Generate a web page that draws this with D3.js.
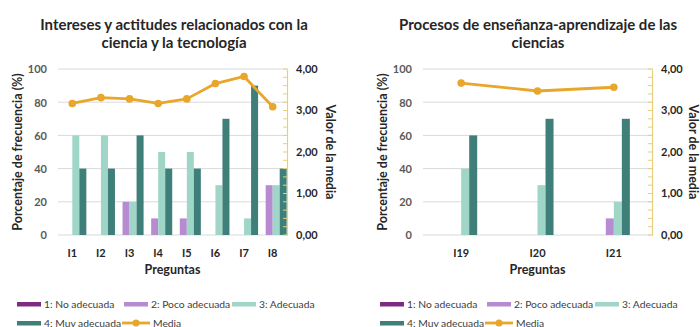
<!DOCTYPE html>
<html><head><meta charset="utf-8">
<script src="https://cdn.jsdelivr.net/npm/d3@7"></script>
<style>
body{margin:0;background:#fff;}
svg{display:block;font-family:"Lato","Open Sans",sans-serif;}
</style></head>
<body><svg id="c" width="700" height="327"></svg>
<script>
// ---- data ----
const seriesNames = ["1: No adecuada","2: Poco adecuada","3: Adecuada","4: Muy adecuada"];
const mediaName = "Media";
const catsA = ["I1","I2","I3","I4","I5","I6","I7","I8"];
const noAdecuadaA = [0,0,0,0,0,0,0,0];
const pocoAdecuadaA = [0,0,20,10,10,0,0,30];
const adecuadaA = [60,60,20,50,50,30,10,30];
const muyAdecuadaA = [40,40,60,40,40,70,90,40];
const mediaA = [3.17,3.31,3.28,3.17,3.28,3.65,3.82,3.09];

const catsB = ["I19","I20","I21"];
const noAdecuadaB = [0,0,0];
const pocoAdecuadaB = [0,0,10];
const adecuadaB = [40,30,20];
const muyAdecuadaB = [60,70,70];
const mediaB = [3.66,3.47,3.56];

const leftTicks = [0,20,40,60,80,100];
const rightTicks = [0,1,2,3,4];
const titleA = ["Intereses y actitudes relacionados con la","ciencia y la tecnología"];
const titleB = ["Procesos de enseñanza-aprendizaje de las","ciencias"];
const yTitleL = "Porcentaje de frecuencia (%)";
const yTitleR = "Valor de la media";
const xTitle = "Preguntas";

const colors = ["#7b2c82","#b68bd2","#9fd6c8","#3f7f79"];
const mediaColor = "#e8a62b";

const svg = d3.select("#c");

function drawChart(cfg){
  const g = svg.append("g");
  const x0 = d3.scaleBand().domain(cfg.cats).range([cfg.x0, cfg.x1]).paddingInner(0).paddingOuter(0);
  const yL = d3.scaleLinear().domain([0,100]).range([235,69]);
  const yR = d3.scaleLinear().domain([0,4]).range([235,69]);
  const gw = x0.bandwidth()*cfg.groupFrac;
  const x1 = d3.scaleBand().domain(d3.range(4)).range([0,gw]).padding(0);

  // gridlines
  g.selectAll("line.grid").data(leftTicks).join("line")
    .attr("x1",cfg.x0).attr("x2",cfg.x1)
    .attr("y1",d=>yL(d)).attr("y2",d=>yL(d))
    .attr("stroke","#dadada").attr("stroke-width",1);

  // left axis labels
  const la = g.append("g").attr("transform",`translate(${cfg.x0-11},0)`)
    .call(d3.axisLeft(yL).tickValues(leftTicks).tickSize(0).tickPadding(0));
  la.select(".domain").remove();
  la.selectAll("text").attr("font-size",11).attr("fill","#595959").attr("font-family","Lato, sans-serif").attr("font-weight","bold").attr("dy","0.35em");

  // bars
  const data = cfg.cats.map((c,i)=>({c, v: cfg.series.map(s=>s[i])}));
  const grp = g.selectAll("g.grp").data(data).join("g")
    .attr("transform",d=>`translate(${x0(d.c)+(x0.bandwidth()-gw)/2},0)`);
  grp.selectAll("rect").data(d=>d.v.map((v,k)=>({v,k}))).join("rect")
    .attr("x",d=>x1(d.k)).attr("width",x1.bandwidth())
    .attr("y",d=>yL(d.v)).attr("height",d=>yL(0)-yL(d.v))
    .attr("fill",d=>colors[d.k]);

  // right axis
  const ra = g.append("g").attr("transform",`translate(${cfg.x1},0)`)
    .call(d3.axisRight(yR).tickValues(d3.range(0,4.01,0.2)).tickSize(0).tickFormat(""));
  ra.select(".domain").attr("stroke","#e9cf7a").attr("stroke-width",1.2);
  g.selectAll("line.minor").data(d3.range(0,4.01,0.2)).join("line")
    .attr("x1",cfg.x1-4).attr("x2",cfg.x1+1)
    .attr("y1",d=>yR(d)).attr("y2",d=>yR(d))
    .attr("stroke","#e9cf7a").attr("stroke-width",1);
  g.selectAll("text.rt").data(rightTicks).join("text")
    .attr("x",cfg.x1+9).attr("y",d=>yR(d)).attr("dy","0.35em")
    .attr("font-size",11).attr("font-weight","bold").attr("fill","#262626")
    .text(d=>d3.format(".2f")(d).replace(".",","));

  // media line
  const lineGen = d3.line().x((d,i)=>x0(cfg.cats[i])+x0.bandwidth()/2).y(d=>yR(d));
  g.append("path").datum(cfg.media).attr("d",lineGen)
    .attr("fill","none").attr("stroke",mediaColor).attr("stroke-width",2.8).attr("stroke-linejoin","round");
  g.selectAll("circle.m").data(cfg.media).join("circle")
    .attr("cx",(d,i)=>x0(cfg.cats[i])+x0.bandwidth()/2).attr("cy",d=>yR(d)).attr("r",3.8)
    .attr("fill",mediaColor);

  // category labels
  g.selectAll("text.cat").data(cfg.cats).join("text")
    .attr("x",d=>x0(d)+x0.bandwidth()/2).attr("y",253).attr("dy","0.35em")
    .attr("text-anchor","middle").attr("font-size",11).attr("font-weight","bold").attr("fill","#262626")
    .text(d=>d);

  // titles
  cfg.title.forEach((t,i)=>{
    g.append("text").attr("x",cfg.titleX).attr("y",25+i*18).attr("dy","0.35em")
      .attr("text-anchor","middle").attr("font-size",15).attr("font-weight","bold").attr("fill","#262626").text(t);
  });
  g.append("text").attr("x",(cfg.x0+cfg.x1)/2).attr("y",270).attr("dy","0.35em")
    .attr("text-anchor","middle").attr("font-size",12.5).attr("font-weight","bold").attr("fill","#262626").text(xTitle);
  g.append("text").attr("transform",`translate(${cfg.yLx},152) rotate(-90)`).attr("dy","0.35em")
    .attr("text-anchor","middle").attr("font-size",12.5).attr("font-weight","bold").attr("fill","#262626").text(yTitleL);
  g.append("text").attr("transform",`translate(${cfg.yRx},152) rotate(90)`).attr("dy","0.35em")
    .attr("text-anchor","middle").attr("font-size",12.5).attr("font-weight","bold").attr("fill","#262626").text(yTitleR);

  // legend
  const items = seriesNames.map((n,k)=>({n,k}));
  const pos = [[0,0],[cfg.leg2,0],[cfg.leg3,0],[0,1]];
  items.forEach((it,k)=>{
    const lx = cfg.legX + pos[k][0], ly = 304 + pos[k][1]*19;
    g.append("rect").attr("x",lx).attr("y",ly-2).attr("width",24).attr("height",4.5).attr("fill",colors[k]);
    g.append("text").attr("x",lx+27).attr("y",ly).attr("dy","0.35em").attr("font-size",10.3).attr("fill","#404040").text(it.n);
  });
  const mx = cfg.legX + cfg.legM, my = 323;
  g.append("line").attr("x1",mx).attr("x2",mx+28).attr("y1",my).attr("y2",my).attr("stroke",mediaColor).attr("stroke-width",2.8);
  g.append("circle").attr("cx",mx+14).attr("cy",my).attr("r",3.5).attr("fill",mediaColor);
  g.append("text").attr("x",mx+31).attr("y",my).attr("dy","0.35em").attr("font-size",10.3).attr("fill","#404040").text(mediaName);
}

drawChart({cats:catsA, series:[noAdecuadaA,pocoAdecuadaA,adecuadaA,muyAdecuadaA], media:mediaA,
  x0:58, x1:287, groupFrac:0.98, title:titleA, titleX:174, yLx:18, yRx:330,
  legX:17, leg2:107, leg3:215, legM:105});
drawChart({cats:catsB, series:[noAdecuadaB,pocoAdecuadaB,adecuadaB,muyAdecuadaB], media:mediaB,
  x0:423, x1:652, groupFrac:0.42, title:titleB, titleX:538, yLx:383, yRx:693,
  legX:380, leg2:107, leg3:215, legM:105});
</script></body></html>
